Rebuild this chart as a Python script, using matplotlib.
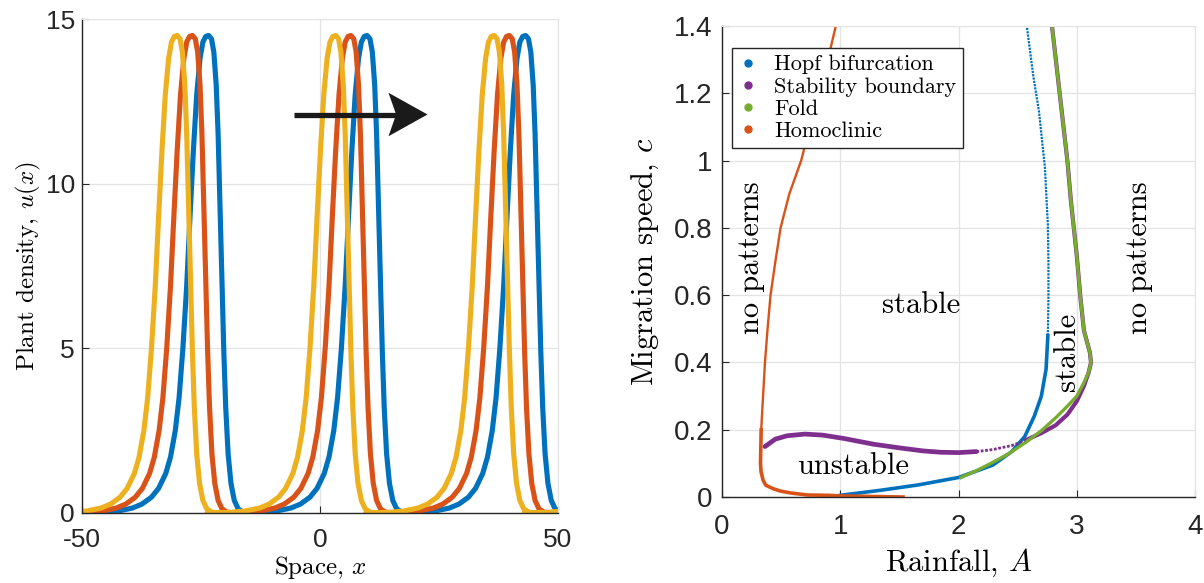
import numpy as np
import matplotlib.pyplot as plt
from matplotlib.lines import Line2D
from matplotlib.patches import Polygon

plt.rcParams['mathtext.fontset'] = 'cm'
plt.rcParams['axes.unicode_minus'] = False

# travelling pulse profile, offset from peak vs plant density
pulse_offset = [-27, -22, -19, -16, -14, -12, -10.5, -9, -8, -7, -6.2, -5.4, -4.6, -3.9,
                -3.2, -2.5, -1.8, -1.2, -0.6, 0, 0.6, 1.1, 1.6, 2.0, 2.4, 2.8, 3.2, 3.6,
                4.1, 4.7, 5.4, 6.2, 7.2, 8.5, 10]
pulse_u = [0, 0.02, 0.06, 0.15, 0.27, 0.48, 0.75, 1.2, 1.7, 2.5, 3.5, 5.0, 6.9, 9.0,
           11.0, 12.7, 13.8, 14.3, 14.47, 14.5, 14.4, 14.0, 13.0, 11.5, 9.3, 7.0, 4.9, 3.2,
           1.8, 0.9, 0.38, 0.13, 0.03, 0, 0]

# peak locations at three successive times
peaks_t1 = [-30.0, 3.3, 36.6, 69.9]
peaks_t2 = [-26.8, 6.5, 39.8, 73.1]
peaks_t3 = [-23.4, 9.9, 43.2, 76.5]

# bifurcation curves in the (A, c) plane
hopf_A = [1.0, 1.34, 1.66, 2.0, 2.29, 2.45, 2.56, 2.64, 2.70, 2.74, 2.755, 2.76, 2.76,
          2.755, 2.73, 2.68, 2.63, 2.577]
hopf_c = [0.005, 0.02, 0.036, 0.058, 0.095, 0.135, 0.18, 0.24, 0.30, 0.38, 0.48, 0.59,
          0.70, 0.81, 0.98, 1.146, 1.256, 1.4]

stab_A = [0.363, 0.45, 0.55, 0.70, 0.85, 1.03, 1.28, 1.50, 1.70, 1.85, 2.0, 2.15, 2.29,
          2.45, 2.57, 2.70, 2.82, 2.92, 3.0, 3.06, 3.10, 3.12, 3.11, 3.06, 3.03, 3.0,
          2.95, 2.92, 2.855, 2.79]
stab_c = [0.150, 0.172, 0.182, 0.187, 0.184, 0.174, 0.157, 0.146, 0.137, 0.133, 0.132,
          0.135, 0.141, 0.153, 0.169, 0.19, 0.213, 0.245, 0.285, 0.33, 0.37, 0.40, 0.43,
          0.495, 0.594, 0.716, 0.88, 1.0, 1.2, 1.4]

fold_A = [2.02, 2.15, 2.29, 2.43, 2.57, 2.70, 2.82, 2.92, 3.0, 3.06, 3.10, 3.12, 3.11,
          3.06, 3.03, 3.0, 2.95, 2.92, 2.855, 2.79]
fold_c = [0.058, 0.078, 0.103, 0.13, 0.163, 0.197, 0.235, 0.27, 0.30, 0.34, 0.37, 0.40,
          0.43, 0.495, 0.594, 0.716, 0.88, 1.0, 1.2, 1.4]

homo_A = [1.53, 1.2, 1.0, 0.9, 0.72, 0.58, 0.49, 0.43, 0.37, 0.347, 0.33, 0.325, 0.331,
          0.347, 0.363, 0.385, 0.41, 0.451, 0.495, 0.568, 0.669, 0.80, 0.915, 0.962]
homo_c = [0.0, 0.002, 0.003, 0.005, 0.006, 0.012, 0.018, 0.025, 0.035, 0.05, 0.075,
          0.1, 0.2, 0.3, 0.4, 0.5, 0.6, 0.7, 0.8, 0.9, 1.0, 1.18, 1.33, 1.4]

blue = '#0072BD'
orange = '#D95319'
yellow = '#EDB120'
purple = '#7E2F8E'
green = '#77AC30'
dark = '#262626'
grid_col = '#e3e3e3'


def style_axes(ax, fs, xpad, ypad):
    ax.grid(True, color=grid_col, lw=0.9)
    ax.set_axisbelow(True)
    for s in ['top', 'right']:
        ax.spines[s].set_color(grid_col)
    for s in ['left', 'bottom']:
        ax.spines[s].set_color(dark)
        ax.spines[s].set_linewidth(1.0)
    ax.tick_params(direction='in', length=5, width=0.8, colors=dark, labelsize=fs,
                   top=False, right=False)
    ax.tick_params(axis='x', pad=xpad)
    ax.tick_params(axis='y', pad=ypad)
    for lab in ax.get_xticklabels() + ax.get_yticklabels():
        lab.set_fontfamily('Liberation Sans')


def pulse_train(peaks):
    x = np.concatenate([p + np.array(pulse_offset) for p in peaks])
    u = np.concatenate([np.array(pulse_u) for p in peaks])
    return x, u


fig = plt.figure(figsize=(12.04, 5.83), dpi=100)

# left: plant density profiles
ax1 = fig.add_axes([0.0681, 0.1201, 0.3953, 0.8473])
for peaks, col in [(peaks_t3, blue), (peaks_t2, orange), (peaks_t1, yellow)]:
    x, u = pulse_train(peaks)
    ax1.plot(x, u, color=col, lw=3.7, solid_joinstyle='round')
ax1.set_xlim(-50, 50)
ax1.set_ylim(0, 15)
ax1.set_xticks([-50, 0, 50])
ax1.set_yticks([0, 5, 10, 15])
style_axes(ax1, 19, 11, 5)
ax1.set_xlabel(r'Space, $x$', fontfamily='cmr10', fontsize=18, labelpad=1)
ax1.set_ylabel(r'Plant density, $u(x)$', fontfamily='cmr10', fontsize=18, labelpad=2)

# direction of travel
arr_x0, arr_x1, arr_y = -5.4, 22.6, 12.1
head_len, head_half, notch = 8.2, 0.66, 1.6
ax1.plot([arr_x0, arr_x1 - head_len + notch], [arr_y, arr_y], color='#1a1a1a', lw=3.8,
         solid_capstyle='butt')
ax1.add_patch(Polygon([(arr_x1, arr_y), (arr_x1 - head_len, arr_y + head_half),
                       (arr_x1 - head_len + notch, arr_y),
                       (arr_x1 - head_len, arr_y - head_half)],
                      closed=True, color='#1a1a1a', lw=0))

# right: bifurcation diagram
ax2 = fig.add_axes([0.5997, 0.1475, 0.3929, 0.8079])
ax2.plot(hopf_A[:11], hopf_c[:11], color=blue, lw=2.6)
ax2.plot(hopf_A[10:], hopf_c[10:], color=blue, lw=1.6, ls=(0, (1, 0.5)))
ax2.plot(stab_A[:12], stab_c[:12], color=purple, lw=3.4, solid_capstyle='round')
ax2.plot(stab_A[11:15], stab_c[11:15], color=purple, lw=2.0, ls=(0, (1, 0.6)))
ax2.plot(stab_A[14:], stab_c[14:], color=purple, lw=3.0)
ax2.plot(fold_A, fold_c, color=green, lw=2.4)
ax2.plot(homo_A[:13], homo_c[:13], color=orange, lw=2.6)
ax2.plot(homo_A[12:], homo_c[12:], color=orange, lw=1.7)
ax2.set_xlim(0, 4)
ax2.set_ylim(0, 1.4)
ax2.set_xticks([0, 1, 2, 3, 4])
ax2.set_yticks([0, 0.2, 0.4, 0.6, 0.8, 1.0, 1.2, 1.4])
ax2.set_yticklabels(['0', '0.2', '0.4', '0.6', '0.8', '1', '1.2', '1.4'])
style_axes(ax2, 20, 12, 7)
ax2.set_xlabel(r'Rainfall, $A$', fontfamily='cmr10', fontsize=22, labelpad=5)
ax2.set_ylabel(r'Migration speed, $c$', fontfamily='cmr10', fontsize=22, labelpad=9)

region_kw = dict(fontfamily='cmr10', fontsize=22, ha='center', va='center', color='black')
ax2.text(0.245, 0.71, 'no patterns', rotation=90, **region_kw)
ax2.text(1.68, 0.57, 'stable', **region_kw)
ax2.text(1.11, 0.09, 'unstable', **region_kw)
ax2.text(2.92, 0.43, 'stable', rotation=90, **region_kw)
ax2.text(3.53, 0.71, 'no patterns', rotation=90, **region_kw)

handles = [Line2D([], [], ls='none', marker='o', ms=5, color=c)
           for c in [blue, purple, green, orange]]
labels = ['Hopf bifurcation', 'Stability boundary', 'Fold', 'Homoclinic']
leg = ax2.legend(handles, labels, loc='upper left', bbox_to_anchor=(0.021, 0.953),
                 borderaxespad=0, fancybox=False, framealpha=1, edgecolor=dark,
                 prop={'family': 'cmr10', 'size': 16}, handlelength=0.8,
                 handletextpad=0.8, labelspacing=0.12, borderpad=0.3)
leg.get_frame().set_linewidth(1.0)

fig.savefig('out.png', dpi=100)
